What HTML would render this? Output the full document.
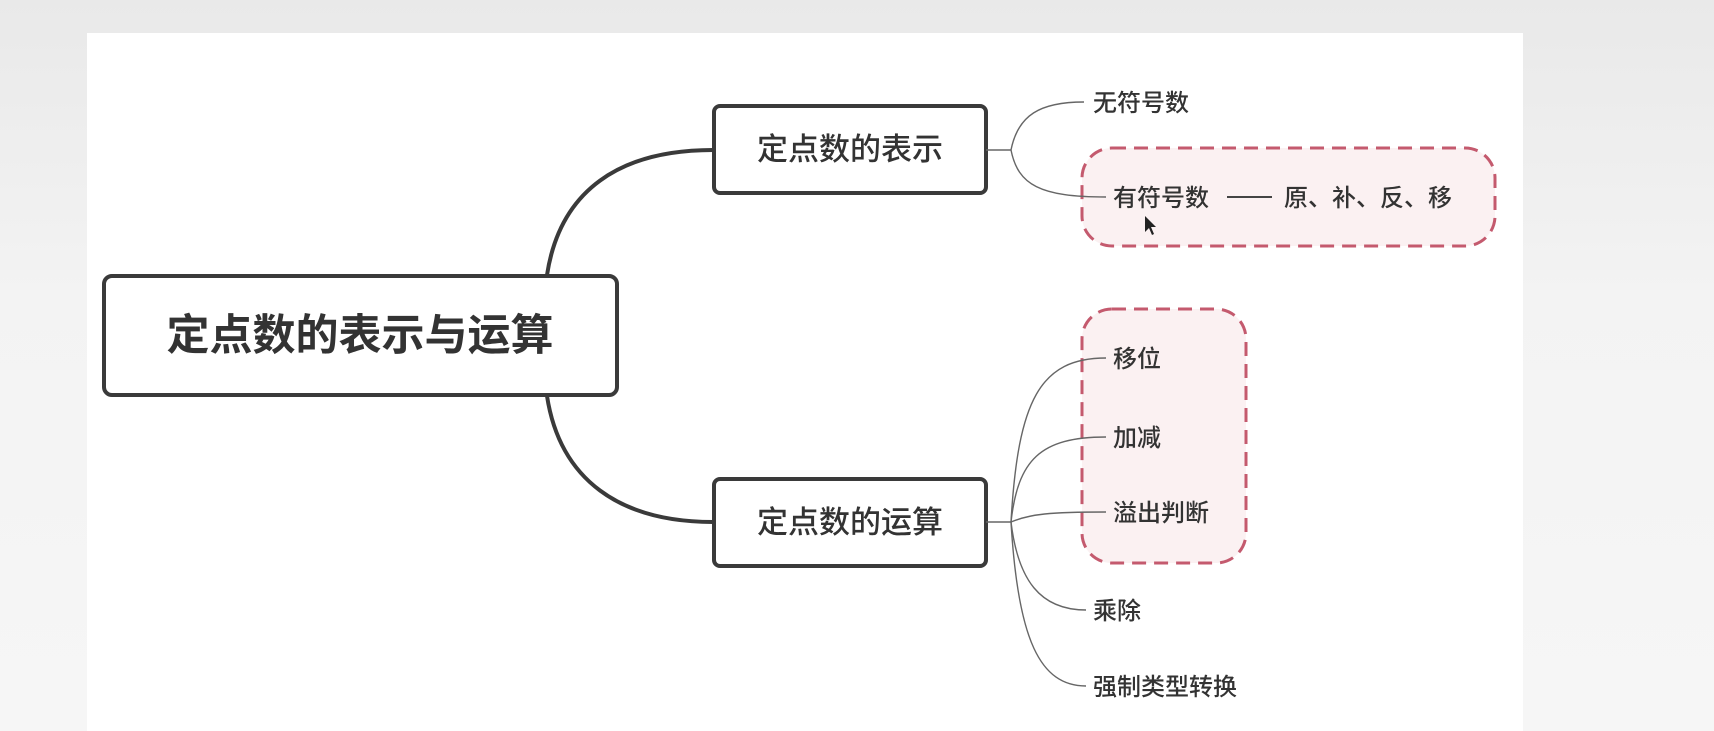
<!DOCTYPE html>
<html><head><meta charset="utf-8"><style>
html,body{margin:0;padding:0;}
body{width:1714px;height:731px;overflow:hidden;background:linear-gradient(#e9e9e9,#f3f3f3 40%,#f6f6f6);font-family:"Liberation Sans","Noto Sans CJK SC",sans-serif;}
</style></head><body>
<svg width="1714" height="731" xmlns="http://www.w3.org/2000/svg" style="position:absolute;left:0;top:0">
<rect x="87" y="33" width="1436" height="698" fill="#ffffff"/>
<rect x="1082" y="148" width="413" height="98" rx="30" fill="#fbf1f2" stroke="#c45a6e" stroke-width="3" stroke-dasharray="14,8"/>
<rect x="1082" y="309" width="164" height="254" rx="30" fill="#fbf1f2" stroke="#c45a6e" stroke-width="3" stroke-dasharray="14,8"/>
<path d="M547 275 C560 190 620 150 713 150" fill="none" stroke="#3a3a3a" stroke-width="4"/>
<path d="M547 396 C560 480 620 522 713 522" fill="none" stroke="#3a3a3a" stroke-width="4"/>
<rect x="104" y="276" width="513" height="119" rx="8" fill="#fff" stroke="#3a3a3a" stroke-width="4"/>
<rect x="714" y="106" width="272" height="87" rx="6" fill="#fff" stroke="#3a3a3a" stroke-width="4"/>
<rect x="714" y="479" width="272" height="87" rx="6" fill="#fff" stroke="#3a3a3a" stroke-width="4"/>
<g fill="none" stroke="#666" stroke-width="1.4">
<path d="M986 150 L1011 150"/>
<path d="M1011 150 C1018 115 1040 102 1084 102"/>
<path d="M1011 150 C1018 185 1040 197 1106 197"/>
<path d="M986 522 L1011 522"/>
<path d="M1011 522 C1018 400 1040 358 1106 358"/>
<path d="M1011 522 C1018 460 1040 437 1106 437"/>
<path d="M1011 522 C1030 514 1050 512 1106 512"/>
<path d="M1011 522 C1018 580 1040 610 1086 610"/>
<path d="M1011 522 C1018 640 1040 686 1086 686"/>
<path d="M1227 197 L1272 197" stroke="#444" stroke-width="2"/>
</g>
<g font-family="Liberation Sans, Noto Sans CJK SC, sans-serif" fill="#333">
<text x="360" y="350" font-size="43" font-weight="bold" text-anchor="middle">定点数的表示与运算</text>
<text x="850" y="160" font-size="31" font-weight="500" text-anchor="middle">定点数的表示</text>
<text x="850" y="533" font-size="31" font-weight="500" text-anchor="middle">定点数的运算</text>
<g font-size="24" font-weight="500">
<text x="1093" y="111">无符号数</text>
<text x="1113" y="206">有符号数</text>
<text x="1284" y="206">原、补、反、移</text>
<text x="1113" y="367">移位</text>
<text x="1113" y="446">加减</text>
<text x="1113" y="521">溢出判断</text>
<text x="1093" y="619">乘除</text>
<text x="1093" y="695">强制类型转换</text>
</g>
</g>
<path d="M1145 216 l0 16 l4 -4 l3 7 l2 -1 l-3 -7 l5 0 z" fill="#222"/>
</svg>
</body></html>
